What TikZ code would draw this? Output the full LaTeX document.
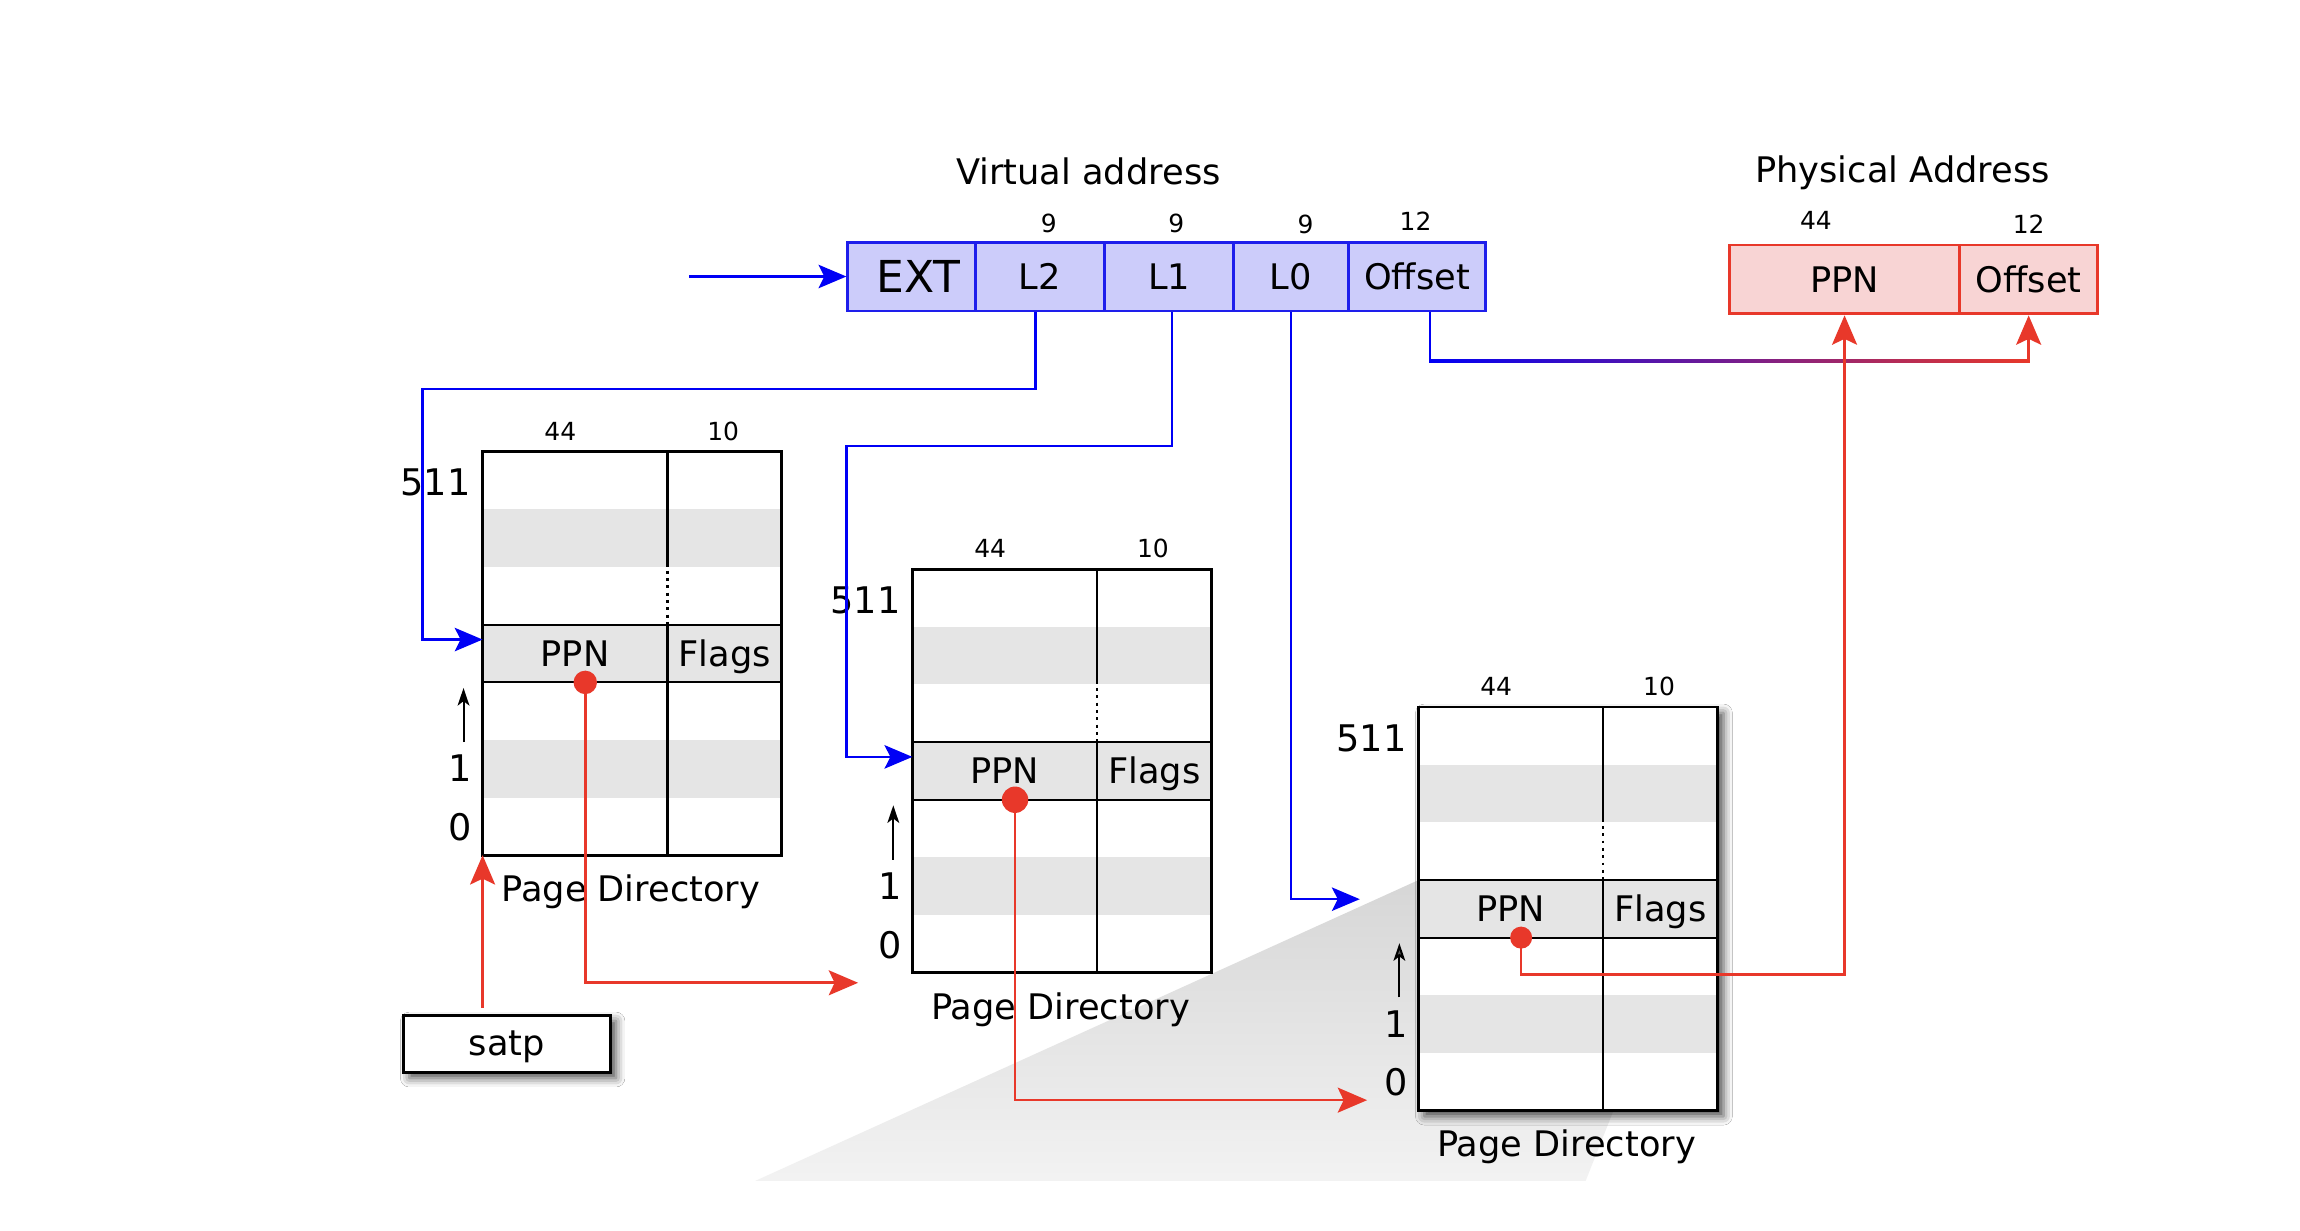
\documentclass[tikz,border=0pt]{standalone}
\usepackage{fontspec}
\setmainfont{DejaVu Sans}
\usetikzlibrary{arrows.meta,shadows.blur,calc}
\definecolor{vablue}{RGB}{30,30,235}
\definecolor{vafill}{RGB}{204,204,250}
\definecolor{arrblue}{RGB}{0,0,245}
\definecolor{pared}{RGB}{232,56,42}
\definecolor{pafill}{RGB}{248,212,212}
\definecolor{rowgrey}{RGB}{229,229,229}
\newcommand\fsz[1]{\fontsize{#1}{#1}\selectfont}
\tikzset{
  celltxt/.style={inner sep=0pt, font=\fsz{24}, text height=17.5pt, text depth=0pt},
  numlbl/.style={inner sep=0pt, font=\fsz{17}, text height=12.4pt, text depth=0pt},
  idxlbl/.style={inner sep=0pt, font=\fsz{25}, text height=18.2pt, text depth=0pt},
  vacell/.style={draw=vablue, fill=vafill, line width=2pt, minimum height=47pt, inner sep=0pt, font=\fsz{24}},
  pacell/.style={draw=pared, fill=pafill, line width=2pt, minimum height=47pt, inner sep=0pt, font=\fsz{24}},
  bluearrow/.style={draw=arrblue, line width=1.6pt, -{Stealth[length=19pt,width=16pt,inset=4pt]}},
  redarrow/.style={draw=pared, line width=1.8pt, -{Stealth[length=20pt,width=17pt,inset=4pt]}},
  softshadow/.style={blur shadow={shadow xshift=4pt, shadow yshift=-4pt, shadow blur radius=6pt, shadow opacity=70}},
}
\newcommand\pdtable[4]{%
\begin{scope}[shift={(#2,#3)}]
  \fill[white,#4] (0,0) rectangle (204,275);
  \fill[rowgrey] (0,39.3) rectangle (204,78.6);
  \fill[rowgrey] (0,117.9) rectangle (204,157.2);
  \fill[rowgrey] (0,196.5) rectangle (204,235.8);
  \draw[line width=1.5pt] (0,117.9) -- (204,117.9) (0,157.2) -- (204,157.2);
  \draw[line width=1.5pt] (126,0) -- (126,78.6) (126,117.9) -- (126,275);
  \draw[line width=1.5pt, dash pattern=on 2pt off 3pt] (126,81) -- (126,117.9);
  \draw[line width=2pt] (0,0) rectangle (204,275);
  \node[celltxt] (#1ppn) at (63,137.5) {PPN};
  \node[celltxt] (#1flags) at (165,137.5) {Flags};
  \node[numlbl] (#1wa) at (53,-14) {44};
  \node[numlbl] (#1wb) at (164,-14) {10};
  \node[idxlbl] (#1ia) at (-32,21) {511};
  \node[idxlbl] (#1ib) at (-15,216) {1};
  \node[idxlbl] (#1ic) at (-15,256) {0};
  \coordinate (#1up0) at (-13,198);
  \coordinate (#1up1) at (-13,161);
  \draw[line width=1.4pt, -{Stealth[length=12pt,width=8pt,inset=3pt]}] (#1up0) -- (#1up1);
  \node[celltxt] (#1name) at (101,298) {Page Directory};
  \coordinate (#1in) at (0,128);
  \coordinate (#1dot) at (70,157.2);
  \coordinate (#1sw) at (0,275);
\end{scope}}

\begin{document}
\begin{tikzpicture}[x=1pt,y=-1pt]
\useasboundingbox (0,0) rectangle (1568,839);
\fill[white] (0,0) rectangle (1568,839);

% wedge behind third table
\shade[top color=black!16, bottom color=black!5]
  (967,600) -- (515,805) -- (1081,805) -- (1100,757) -- (967,757) -- cycle;

% page directories
\pdtable{ta}{329}{308}{}
\pdtable{tb}{622}{388}{}
\pdtable{tc}{967}{482}{softshadow}

% satp
\node[draw, line width=2pt, fill=white, minimum width=141pt, minimum height=39pt,
      inner sep=0pt, font=\fsz{24}, text height=16pt, text depth=0pt, softshadow] (satp) at (345.5,711.5) {satp};

% virtual address
\node[celltxt] (vatitle) at (742,117) {Virtual address};
\node[vacell, minimum width=87pt] (vaext) at (621.5,188.5) {};
\node[inner sep=0pt, font=\fsz{30}, text height=21.9pt, text depth=0pt] (vaextt) at (626,188.5) {EXT};
\node[vacell, minimum width=88pt] (val2) at (709,188.5) {L2};
\node[vacell, minimum width=88pt] (val1) at (797,188.5) {L1};
\node[vacell, minimum width=78pt] (val0) at (880,188.5) {L0};
\node[vacell, minimum width=94pt] (vaoff) at (966,188.5) {Offset};
\node[numlbl] (vw2) at (715,152) {9};
\node[numlbl] (vw1) at (802,152) {9};
\node[numlbl] (vw0) at (890,153) {9};
\node[numlbl] (vwo) at (965,151) {12};

% physical address
\node[celltxt] (patitle) at (1297,116) {Physical Address};
\node[pacell, minimum width=157pt] (pappn) at (1257.5,190.5) {PPN};
\node[pacell, minimum width=94pt] (paoff) at (1383,190.5) {Offset};
\node[numlbl] (pwp) at (1238,150) {44};
\node[numlbl] (pwo) at (1383,153) {12};

% free ends
\coordinate (vain) at (470,188.5);
\coordinate (tbarr) at (585,670);
\coordinate (tcarr) at (932,750);
\coordinate (tcin) at (927,613);

% blue connectors
\draw[bluearrow] (vain) -- (vaext.west);
\draw[bluearrow] ([xshift=-3pt]val2.south) |- (288,265) |- (tain);
\draw[bluearrow] ([xshift=2pt]val1.south) |- (577,304) |- (tbin);
\draw[bluearrow] (val0.south) |- (tcin);

% offset connector (blue to red)
\coordinate (offtop) at ([xshift=9pt]vaoff.south);
\coordinate (offbend) at ($(offtop)+(0,33)$);
\coordinate (offbend2) at (offbend -| paoff.south);
\draw[line width=1.6pt, arrblue] (offtop) -- (offbend);
\shade[left color=arrblue, right color=pared]
  ($(offbend)+(-0.8,-0.9)$) rectangle ($(offbend2)+(0.9,0.9)$);
\draw[redarrow] ($(offbend2)+(0,0.9)$) -- (paoff.south);

% red connectors
\draw[redarrow, shorten <=4pt] (satp.north -| tasw) -- (tasw);
\draw[redarrow] (tadot) |- (tbarr);
\draw[redarrow] (tbdot) |- (tcarr);
\draw[redarrow] (tcdot) -- ++(0,25) -| (pappn.south);

% dots
\fill[pared] (tadot) circle (8pt);
\fill[pared] (tbdot) circle (9pt);
\fill[pared] (tcdot) circle (7.5pt);
\end{tikzpicture}
\end{document}
